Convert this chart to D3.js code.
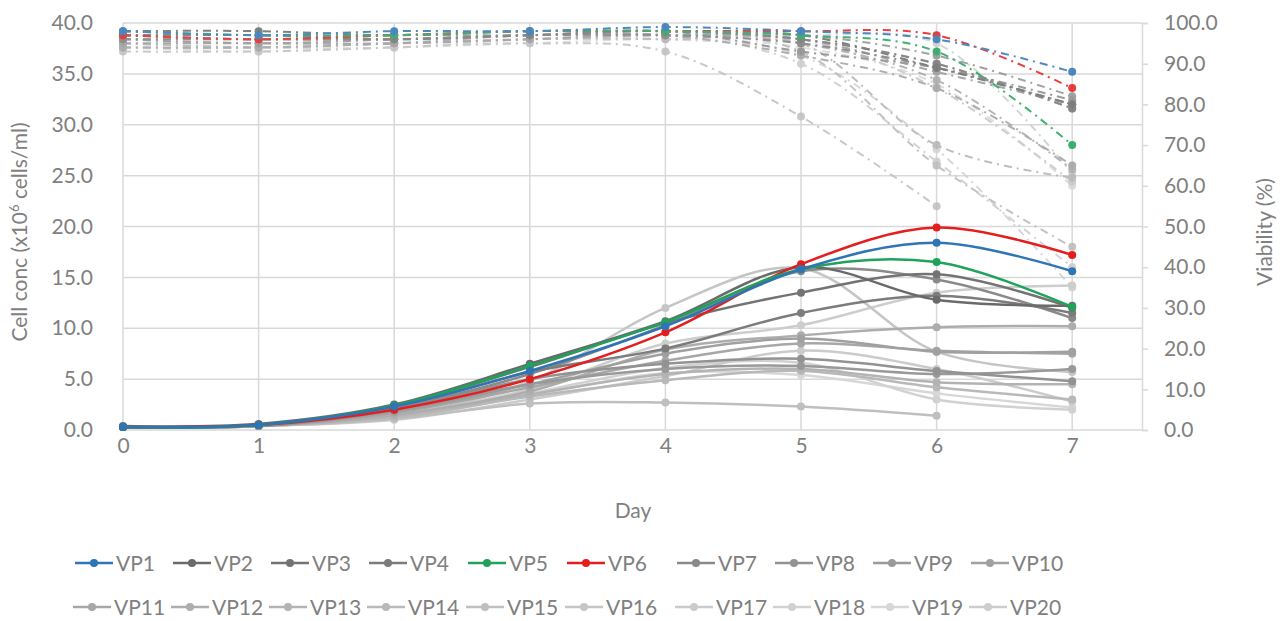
<!DOCTYPE html>
<html>
<head>
<meta charset="utf-8">
<script src="https://cdn.jsdelivr.net/npm/d3@7/dist/d3.min.js"></script>
<style>
  body { margin: 0; background: #fff; }
  svg text { font-family: Lato, "Open Sans", sans-serif; fill: #808080; }
</style>
</head>
<body>
<svg id="chart" width="1287" height="621"></svg>
<script>
// days on the x axis
var days = [0, 1, 2, 3, 4, 5, 6, 7];
var names = ['VP1','VP2','VP3','VP4','VP5','VP6','VP7','VP8','VP9','VP10',
             'VP11','VP12','VP13','VP14','VP15','VP16','VP17','VP18','VP19','VP20'];
var colors = ['#2e75b6','#6a6a6a','#737373','#7c7c7c','#1fa35a','#e41e1e','#8a8a8a','#929292','#999999','#a0a0a0',
              '#a7a7a7','#adadad','#b3b3b3','#b9b9b9','#bfbfbf','#c5c5c5','#cbcbcb','#d1d1d1','#d7d7d7','#cdcdcd'];

// cell concentration (x10^6 cells/ml), day 0..7
var conc = [
  [0.3, 0.5, 2.3, 5.8, 10.2, 15.8, 18.4, 15.6],
  [0.4, 0.6, 2.5, 6.5, 10.7, 16.0, 12.8, 12.2],
  [0.3, 0.5, 2.4, 6.2, 10.5, 13.5, 15.3, 12.0],
  [0.3, 0.5, 2.3, 5.7, 8.0, 11.5, 13.2, 11.5],
  [0.3, 0.5, 2.4, 6.3, 10.6, 15.8, 16.5, 12.1],
  [0.3, 0.5, 2.0, 5.0, 9.6, 16.3, 19.9, 17.2],
  [0.3, 0.5, 2.2, 5.5, 10.3, 15.6, 14.8, 11.0],
  [0.3, 0.4, 2.0, 5.0, 6.5, 7.0, 5.8, 4.8],
  [0.3, 0.4, 1.9, 4.5, 6.0, 6.3, 5.5, 6.0],
  [0.3, 0.4, 1.8, 4.5, 7.5, 9.0, 7.7, 7.7],
  [0.3, 0.4, 1.7, 4.2, 6.8, 8.5, 7.8, 7.5],
  [0.3, 0.4, 1.5, 3.8, 7.9, 9.3, 10.1, 10.2],
  [0.3, 0.4, 1.4, 3.5, 5.5, 6.0, 4.7, 4.5],
  [0.3, 0.4, 1.2, 3.3, 4.9, 5.8, 4.2, 3.0],
  [0.3, 0.4, 1.1, 2.6, 2.7, 2.3, 1.4, null],
  [0.3, 0.4, 1.3, 4.8, 12.0, 15.9, 7.7, 5.7],
  [0.3, 0.4, 1.0, 3.0, 5.3, 7.8, 6.0, 2.8],
  [0.3, 0.4, 1.2, 3.6, 6.1, 6.6, 3.0, 2.0],
  [0.3, 0.4, 1.1, 3.4, 5.6, 5.4, 3.6, 2.2],
  [0.3, 0.4, 1.6, 4.0, 8.5, 10.3, 13.5, 14.2]
];

// viability (%), day 0..7
var viab = [
  [98, 97, 98, 98, 99, 98, 96, 88],
  [98, 98, 97, 98, 98, 97, 89, 80],
  [97, 97, 96, 97, 98, 96, 90, 79],
  [96, 96, 96, 97, 97, 95, 89, 80],
  [98, 97, 97, 98, 98, 97, 93, 70],
  [97, 96, 97, 98, 98, 98, 97, 84],
  [97, 96, 97, 97, 98, 93, 89, 81],
  [96, 95, 96, 97, 97, 97, 92, 82],
  [95, 95, 95, 96, 97, 96, 88, 80],
  [94, 94, 95, 97, 97, 92, 84, 65],
  [97, 97, 96, 97, 98, 95, 86, 64],
  [96, 96, 96, 97, 98, 96, 90, 79],
  [95, 94, 95, 96, 96, 95, 70, 62],
  [94, 94, 95, 96, 97, 93, 65, 45],
  [93, 93, 94, 95, 93, 77, 55, null],
  [97, 96, 96, 97, 98, 96, 84, 61],
  [96, 95, 95, 96, 97, 90, 66, 40],
  [95, 94, 94, 96, 96, 92, 69, 35],
  [94, 93, 94, 95, 96, 94, 85, 60],
  [97, 96, 97, 98, 98, 97, 95, 63]
];

var concTicks = [0, 5, 10, 15, 20, 25, 30, 35, 40];
var viabTicks = [0, 10, 20, 30, 40, 50, 60, 70, 80, 90, 100];

(function () {
    var svg = d3.select('#chart');
    var top = 23, bottom = 430, left = 123, right = 1140;
    var fs = 21;

    var x = d3.scaleLinear().domain([0, 7.5]).range([left, right]);
    var y = d3.scaleLinear().domain([0, 40]).range([bottom, top]);
    var y2 = d3.scaleLinear().domain([0, 100]).range([bottom, top]);

    // grid
    var grid = svg.append('g').attr('stroke', '#d9d9d9').attr('stroke-width', 1.5);
    grid.selectAll('line.h').data(concTicks).enter().append('line')
        .attr('x1', left).attr('x2', right + 2)
        .attr('y1', function (d) { return y(d); }).attr('y2', function (d) { return y(d); });
    grid.selectAll('line.v').data(days).enter().append('line')
        .attr('x1', function (d) { return x(d); }).attr('x2', function (d) { return x(d); })
        .attr('y1', top).attr('y2', bottom);

    // left axis labels
    var yAxis = d3.axisLeft(y).tickValues(concTicks).tickFormat(d3.format('.1f')).tickSize(0).tickPadding(0);
    var gy = svg.append('g').attr('transform', 'translate(93,0)').call(yAxis);
    gy.select('.domain').remove();

    // right axis
    var y2Axis = d3.axisRight(y2).tickValues(viabTicks).tickFormat(d3.format('.1f')).tickSize(6).tickPadding(16);
    var gy2 = svg.append('g').attr('transform', 'translate(1142,0)').call(y2Axis);
    gy2.select('.domain').attr('stroke', '#d9d9d9').attr('stroke-width', 1.5);
    gy2.selectAll('.tick line').attr('stroke', '#d9d9d9').attr('stroke-width', 1.5);

    // bottom labels
    var xAxis = d3.axisBottom(x).tickValues(days).tickFormat(d3.format('d')).tickSize(0).tickPadding(8);
    var gx = svg.append('g').attr('transform', 'translate(0,' + bottom + ')').call(xAxis);
    gx.select('.domain').remove();

    svg.selectAll('.tick text').attr('font-size', fs).attr('fill', '#808080')
        .style('font-family', 'Lato, "Open Sans", sans-serif');

    // axis titles
    svg.append('text').attr('x', 633).attr('y', 518).attr('text-anchor', 'middle')
        .attr('font-size', fs).text('Day');
    var lt = svg.append('text').attr('transform', 'translate(27,232) rotate(-90)')
        .attr('text-anchor', 'middle').attr('font-size', fs);
    lt.append('tspan').text('Cell conc (x10');
    lt.append('tspan').attr('baseline-shift', 'super').attr('font-size', 13).text('6');
    lt.append('tspan').text(' cells/ml)');
    svg.append('text').attr('transform', 'translate(1272,232) rotate(-90)')
        .attr('text-anchor', 'middle').attr('font-size', fs).text('Viability (%)');

    var series = names.map(function (n, i) {
        return {
            name: n, color: colors[i],
            conc: days.map(function (d, j) { return { d: d, v: conc[i][j] }; }).filter(function (p) { return p.v != null; }),
            viab: days.map(function (d, j) { return { d: d, v: viab[i][j] }; }).filter(function (p) { return p.v != null; })
        };
    });
    // greys first, colored series on top
    var order = series.slice().reverse();
    var colored = order.filter(function (s) { return ['VP1', 'VP5', 'VP6'].indexOf(s.name) >= 0; });
    order = order.filter(function (s) { return colored.indexOf(s) < 0; }).concat(colored);

    var lineC = d3.line().curve(d3.curveCatmullRom.alpha(0.5))
        .x(function (p) { return x(p.d); }).y(function (p) { return y(p.v); });
    var lineV = d3.line().curve(d3.curveCatmullRom.alpha(0.5))
        .x(function (p) { return x(p.d); }).y(function (p) { return y2(p.v); });

    var gV = svg.append('g').attr('opacity', 0.85);
    order.forEach(function (s) {
        gV.append('path').attr('d', lineV(s.viab)).attr('fill', 'none')
            .attr('stroke', s.color).attr('stroke-width', 2).attr('stroke-dasharray', '8,5,2,5');
        gV.selectAll(null).data(s.viab).enter().append('circle')
            .attr('cx', function (p) { return x(p.d); }).attr('cy', function (p) { return y2(p.v); })
            .attr('r', 4).attr('fill', s.color);
    });

    var gC = svg.append('g');
    order.forEach(function (s) {
        gC.append('path').attr('d', lineC(s.conc)).attr('fill', 'none')
            .attr('stroke', s.color).attr('stroke-width', 2.5);
        gC.selectAll(null).data(s.conc).enter().append('circle')
            .attr('cx', function (p) { return x(p.d); }).attr('cy', function (p) { return y(p.v); })
            .attr('r', 4).attr('fill', s.color);
    });

    // legend, two rows of ten
    var legX = [75, 173, 271, 369, 468, 567, 677, 775, 873, 971];
    var legY = [563, 607];
    series.forEach(function (s, i) {
        var row = Math.floor(i / 10), col = i % 10;
        var lx = legX[col] - (row ? 2 : 0), ly = legY[row];
        var g = svg.append('g').attr('transform', 'translate(' + lx + ',' + ly + ')');
        g.append('line').attr('x1', 0).attr('x2', 38).attr('y1', 0).attr('y2', 0)
            .attr('stroke', s.color).attr('stroke-width', 2.5);
        g.append('circle').attr('cx', 19).attr('cy', 0).attr('r', 4).attr('fill', s.color);
        g.append('text').attr('x', 41).attr('y', 7.5).attr('font-size', fs).text(s.name);
    });
})();
</script>
</body>
</html>
